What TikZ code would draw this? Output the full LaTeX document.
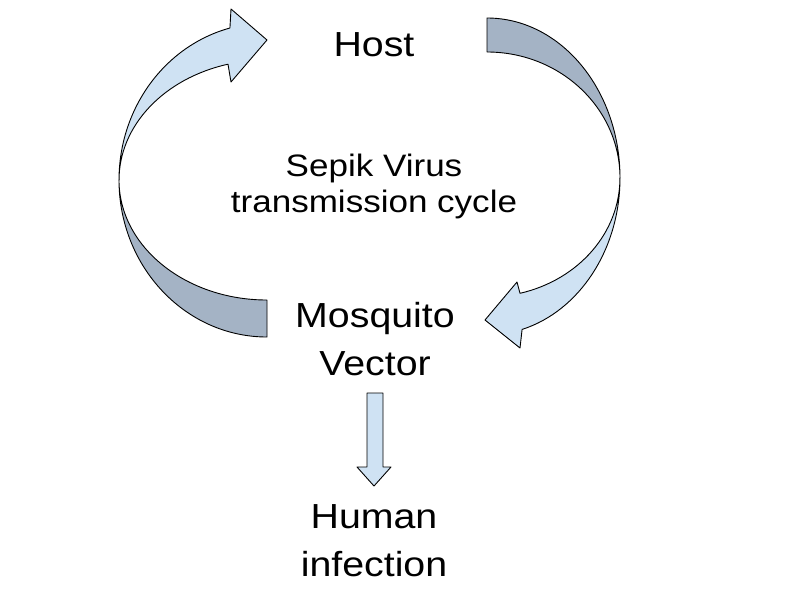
\documentclass[tikz,border=0pt]{standalone}
\usepackage{fontspec}
\setmainfont{Liberation Sans}[FakeStretch=1.13]
\usetikzlibrary{calc}
\definecolor{arrowlight}{HTML}{CFE2F3}
\definecolor{arrowdark}{HTML}{A4B3C5}
\tikzset{
  bigtxt/.style={align=center, anchor=base, inner sep=0pt, font=\fontsize{34.8}{48}\selectfont},
  midtxt/.style={align=center, anchor=base, inner sep=0pt, font=\fontsize{31}{36}\selectfont},
  frontface/.style={draw=black, line width=0.9pt, fill=arrowlight, line join=round},
  backface/.style={draw=black, line width=0.9pt, fill=arrowdark, line join=round}
}
\begin{document}
\begin{tikzpicture}[x=1pt, y=-1pt]
  \useasboundingbox (0,0) rectangle (800,600);
  % labels (base = last line)
  \node[bigtxt] (host) at (374,56.7) {Host};
  \node[midtxt] (cycle) at (374,212.7) {Sepik Virus\\transmission cycle};
  \node[bigtxt] (vector) at (375,375) {Mosquito\\Vector};
  \node[bigtxt] (human) at (374,576.7) {Human\\infection};
  % left curved arrow, vector -> host
  \draw[backface] (267,337) arc[start angle=90, end angle=180, x radius=148, y radius=157]
    arc[start angle=180, end angle=90, x radius=148, y radius=120] -- cycle;
  \draw[frontface] (119,180) arc[start angle=180, end angle=255.5, x radius=148, y radius=157]
    -- (231,9) -- (267,40) -- (231,82) -- (228,64.2)
    arc[start angle=254.7, end angle=180, x radius=148, y radius=120] -- cycle;
  % right curved arrow, host -> vector
  \draw[backface] (487,18) arc[start angle=270, end angle=360, x radius=133, y radius=160]
    arc[start angle=360, end angle=270, x radius=133, y radius=126] -- cycle;
  \draw[frontface] (620,178) arc[start angle=0, end angle=74.7, x radius=133, y radius=157]
    -- (520,348) -- (485,320) -- (517,282) -- (520,293.3)
    arc[start angle=75.6, end angle=0, x radius=133, y radius=119] -- cycle;
  % straight arrow, vector -> human
  \coordinate (dtop) at (375,393);
  \draw[frontface] ($(dtop)+(-8,0)$) -- ($(dtop)+(8,0)$) -- ($(dtop)+(8,74)$) -- ($(dtop)+(16,74)$)
    -- ($(dtop)+(-1,93)$) -- ($(dtop)+(-18,74)$) -- ($(dtop)+(-8,74)$) -- cycle;
\end{tikzpicture}
\end{document}
